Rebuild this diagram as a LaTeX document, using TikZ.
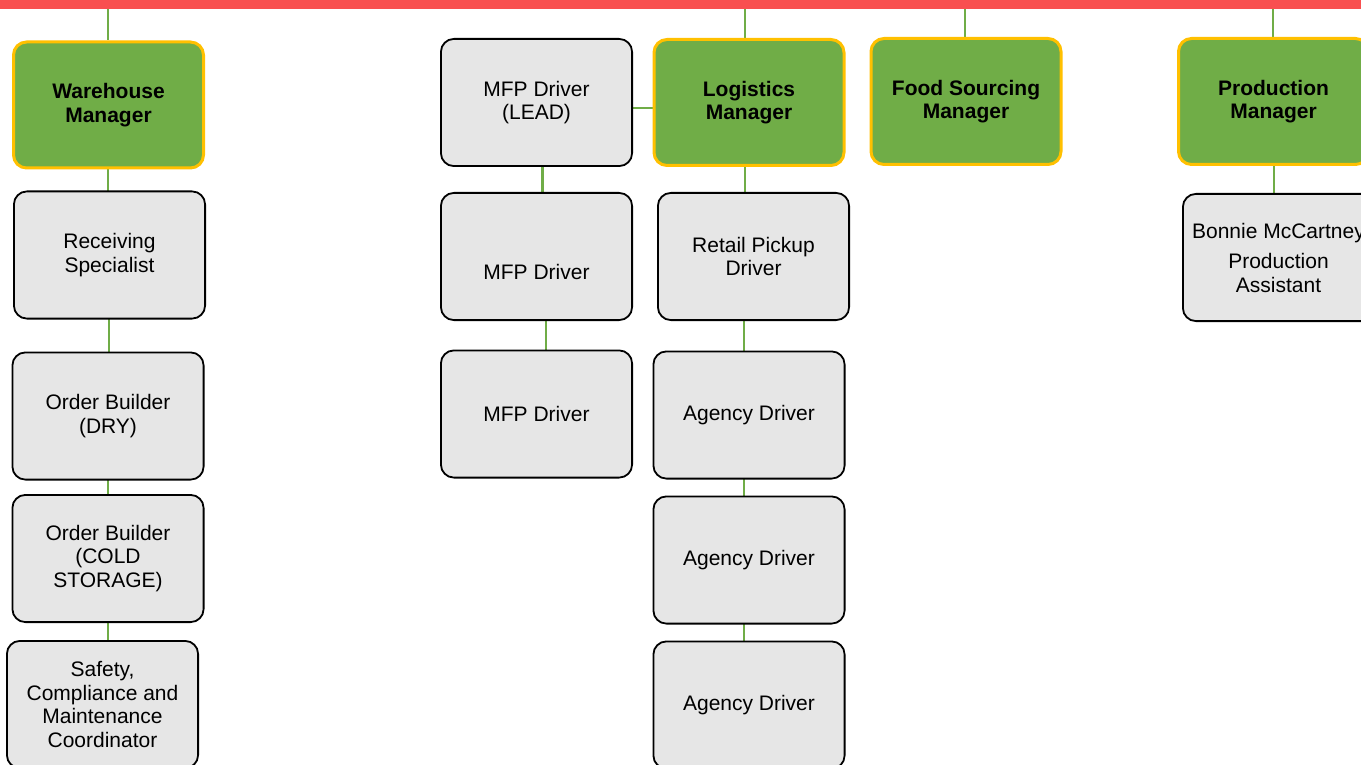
\documentclass[tikz,border=0pt]{standalone}
\usepackage{fontspec}
\setmainfont{Liberation Sans}
\usetikzlibrary{backgrounds}
\definecolor{barred}{HTML}{F95050}
\definecolor{mgreen}{HTML}{70AD47}
\definecolor{mgold}{HTML}{FFC000}
\definecolor{boxgray}{HTML}{E6E6E6}
\begin{document}
\begin{tikzpicture}[x=1pt,y=-1pt,
  base/.style={rectangle, rounded corners=13pt, inner sep=0pt, align=center},
  mgr/.style={base, fill=mgreen, draw=mgold, line width=3pt,
    minimum width=190pt, minimum height=126pt,
    font=\bfseries\fontsize{21}{23.5}\selectfont},
  staff/.style={base, fill=boxgray, draw=black, line width=1.8pt,
    minimum width=191.2pt, minimum height=127.2pt,
    font=\fontsize{21}{23.5}\selectfont},
  plain/.style={inner sep=0pt, align=center, font=\fontsize{21}{23.5}\selectfont},
  link/.style={draw=mgreen, line width=2.5pt}]
\useasboundingbox (0,0) rectangle (1361,765);
\clip (0,0) rectangle (1361,765);

% managers
\node[mgr] (WM) at (108.5,105) {Warehouse\\Manager};
\node[mgr] (LM) at (749,102.5) {Logistics\\Manager};
\node[mgr] (FSM) at (966,101.5) {Food Sourcing\\Manager};
\node[mgr] (PM) at (1273.5,101.5) {Production\\Manager};

% warehouse staff
\node[staff] (RS) at (109.5,255) {Receiving\\Specialist};
\node[staff] (OBD) at (108,416) {Order Builder\\(DRY)};
\node[staff] (OBC) at (108,558.5) {Order Builder\\(COLD\\STORAGE)};
\node[staff] (SCM) at (102.5,704.5) {Safety,\\Compliance and\\Maintenance\\Coordinator};

% MFP drivers
\node[staff] (MFPL) at (536.5,102.5) {MFP Driver\\(LEAD)};
\node[staff] (MFP2) at (536.5,256.5) {};
\node[plain] (MFP2t) at ([yshift=-15.5pt]MFP2.center) {MFP Driver};
\node[staff] (MFP3) at (536.5,414) {MFP Driver};

% logistics staff
\node[staff] (RPD) at (753.5,256.5) {Retail Pickup\\Driver};
\node[staff] (AD1) at (749,415) {Agency Driver};
\node[staff] (AD2) at (749,560) {Agency Driver};
\node[staff] (AD3) at (749,705) {Agency Driver};

% production staff
\node[staff] (BA) at (1278.5,257.5) {Bonnie McCartney\\[7pt]Production\\Assistant};

\begin{scope}[on background layer]
  \fill[white] (0,0) rectangle (1361,765);
  \coordinate (b1) at (108,5);
  \coordinate (b2) at (745,5);
  \coordinate (b3) at (965,5);
  \coordinate (b4) at (1273,5);
  \draw[link] (b1) -- (b1 |- WM.north);
  \draw[link] (b2) -- (b2 |- LM.north);
  \draw[link] (b3) -- (b3 |- FSM.north);
  \draw[link] (b4) -- (b4 |- PM.north);
  \draw[link] ([xshift=-0.5pt]WM.center) -- ([xshift=-1.5pt]RS.center);
  \draw[link] ([xshift=-0.5pt]RS.center) -- ([xshift=1pt]OBD.center);
  \draw[link] (OBD.center) -- (OBC.center);
  \draw[link] (OBC.center) -- ([xshift=5.5pt]SCM.center);
  \draw[link] ([xshift=6pt]MFPL.center) -- ([xshift=6pt]MFP2.center);
  \draw[link] ([xshift=9.5pt]MFP2.center) -- ([xshift=9.5pt]MFP3.center);
  \draw[link] ([yshift=-5.5pt]MFPL.center) -- ([yshift=-5.5pt]LM.center);
  \draw[link] ([xshift=-4pt]LM.center) -- ([xshift=-8.5pt]RPD.center);
  \draw[link] ([xshift=-9.5pt]RPD.center) -- ([xshift=-5pt]AD1.center);
  \draw[link] ([xshift=-5pt]AD1.center) -- ([xshift=-5pt]AD2.center);
  \draw[link] ([xshift=-5pt]AD2.center) -- ([xshift=-5pt]AD3.center);
  \draw[link] ([xshift=0.5pt]PM.center) -- ([xshift=-4.5pt]BA.center);
\end{scope}

\fill[barred] (0,0) rectangle (1361,9.5);
\end{tikzpicture}
\end{document}
